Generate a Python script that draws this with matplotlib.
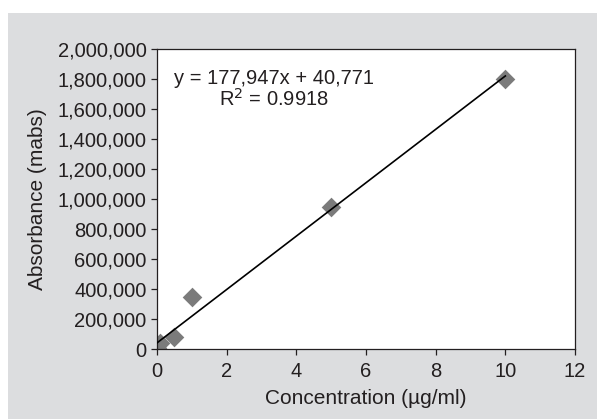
import numpy as np
import matplotlib.pyplot as plt
from matplotlib.patches import Rectangle

# calibration data
conc = [0, 0.1, 0.5, 1, 5, 10]
absorb = [5000, 40000, 80000, 350000, 950000, 1800000]

# trendline given on the chart
slope = 177947
intercept = 40771
r2 = 0.9918

x_ticks = [0, 2, 4, 6, 8, 10, 12]
y_ticks = list(range(0, 2000001, 200000))

plt.rcParams['font.family'] = ['Liberation Sans', 'DejaVu Sans']
text_col = '#231f20'

fig = plt.figure(figsize=(5.97, 4.19), dpi=100)
# grey panel behind the chart
fig.patches.append(Rectangle((8 / 597, 0), 1, 1 - 13 / 419, transform=fig.transFigure,
                             facecolor='#dcdddf', edgecolor='none', zorder=-1))

ax = fig.add_axes([157 / 597, 1 - 349 / 419, 418 / 597, 300 / 419])
ax.set_facecolor('white')

ax.scatter(conc, absorb, marker='D', s=100, color='#7b7b7b', zorder=2, linewidths=0)
fit_x = np.array([0, 10])
ax.plot(fit_x, slope * fit_x + intercept, color='black', lw=1.2, zorder=3)

ax.set_xlim(0, 12)
ax.set_ylim(0, 2000000)
ax.set_xticks(x_ticks)
ax.set_yticks(y_ticks)
ax.set_yticklabels([f'{v:,}' for v in y_ticks])

for s in ax.spines.values():
    s.set_linewidth(0.9)
    s.set_color('#231f20')
ax.tick_params(direction='out', length=4, width=0.9, colors=text_col, labelsize=14.5, pad=3.5)
ax.tick_params(axis='x', pad=5)

ax.set_xlabel('Concentration (µg/ml)', fontsize=15, color=text_col, labelpad=6)
ax.set_ylabel('Absorbance (mabs)', fontsize=15, color=text_col, labelpad=7.5)

ax.text(0.28, 0.935, f'y = {slope:,}x + {intercept:,}\nR$^2$ = {r2}', transform=ax.transAxes,
        ha='center', va='top', fontsize=14.5, color=text_col, linespacing=1.05)

fig.savefig('out.png', dpi=100)
